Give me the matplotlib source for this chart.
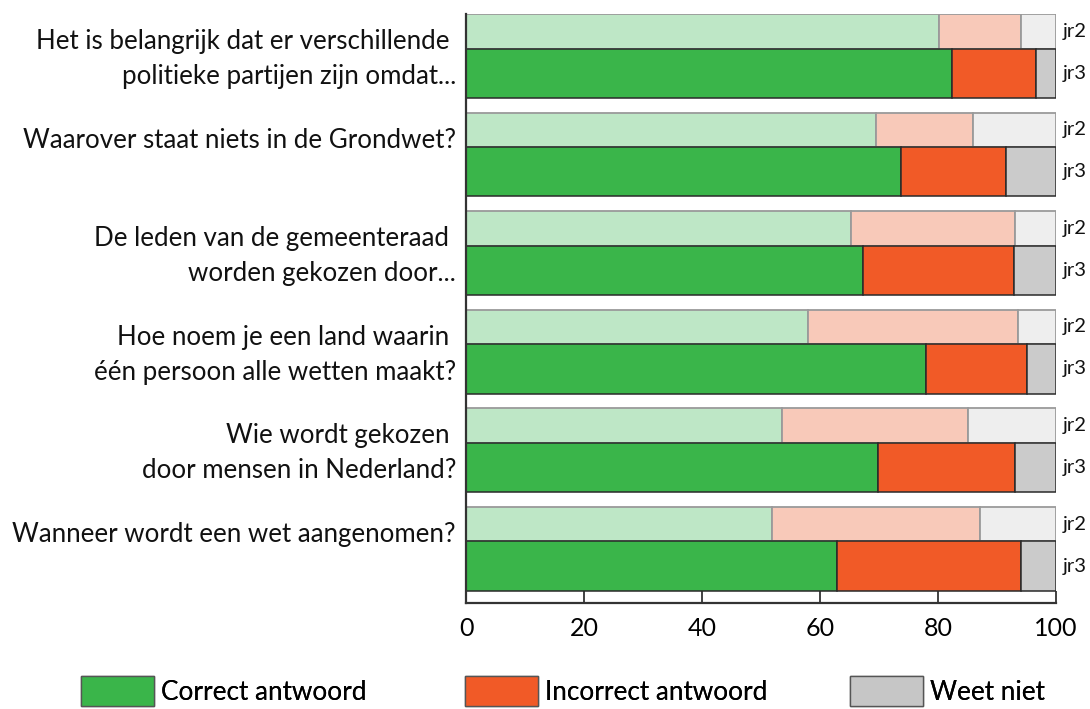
import matplotlib
matplotlib.use("Agg")
import matplotlib.pyplot as plt
from matplotlib.patches import Patch
from matplotlib import transforms as mtrans
import numpy as np

plt.rcParams['font.family'] = ['Lato', 'DejaVu Sans']

questions = [
    "Het is belangrijk dat er verschillende \npolitieke partijen zijn omdat...",
    "Waarover staat niets in de Grondwet?",
    "De leden van de gemeenteraad \nworden gekozen door...",
    "Hoe noem je een land waarin \néén persoon alle wetten maakt?",
    "Wie wordt gekozen \ndoor mensen in Nederland?",
    "Wanneer wordt een wet aangenomen?",
]
jr2_correct = [80.1, 69.5, 65.3, 57.9, 53.5, 51.9]
jr2_incorrect = [14.0, 16.5, 27.8, 35.7, 31.5, 35.2]
jr3_correct = [82.4, 73.8, 67.3, 78.0, 69.9, 62.8]
jr3_incorrect = [14.2, 17.8, 25.6, 17.0, 23.2, 31.3]
jr2_weet = [100 - a - b for a, b in zip(jr2_correct, jr2_incorrect)]
jr3_weet = [100 - a - b for a, b in zip(jr3_correct, jr3_incorrect)]
year_labels = ["jr2", "jr3"]
legend_labels = ["Correct antwoord", "Incorrect antwoord", "Weet niet"]
xticks = [0, 20, 40, 60, 80, 100]

dark = ["#3AB54A", "#F15A27", "#CBCBCB"]
light = ["#BEE7C6", "#F8C9B9", "#EEEEEE"]
legend_colors = ["#3AB54A", "#F15A27", "#C6C6C6"]

fig = plt.figure(figsize=(10.9, 7.09), dpi=100)
ax = fig.add_axes([466/1090, 1-603/709, 590/1090, (603-14)/709])

n = len(questions)
idx = np.arange(n)
h2, h3 = 0.35, 0.50
y2 = idx + h2/2
y3 = idx + h2 + h3/2

def stack(y, h, vals, colors, ec, lw):
    left = np.zeros(n)
    for v, c in zip(vals, colors):
        v = np.array(v)
        ax.barh(y, v, height=h, left=left, color=c, edgecolor=ec, linewidth=lw, zorder=2)
        left = left + v

stack(y2, h2, [jr2_correct, jr2_incorrect, jr2_weet], light, "#9A9A9A", 1.3)
stack(y3, h3, [jr3_correct, jr3_incorrect, jr3_weet], dark, "#2A2A2A", 1.1)

ax.set_xlim(0, 100)
ax.set_ylim(n - 0.15 + 0.125, 0)

for s in ["top", "right"]:
    ax.spines[s].set_visible(False)
for s in ["left", "bottom"]:
    ax.spines[s].set_color("#333333")
    ax.spines[s].set_linewidth(1.6)
    ax.spines[s].set_zorder(3)

ax.set_xticks(xticks)
ax.set_xticklabels([str(t) for t in xticks], fontsize=18)
ax.tick_params(axis='x', direction='in', length=9, width=1.3, color="#333333", pad=10)

tick_y = idx + 0.26
ax.set_yticks(tick_y)
ax.set_yticklabels([])
ax.tick_params(axis='y', direction='in', length=10, width=1.3, color="#333333")

# category labels, line by line
base = mtrans.blended_transform_factory(ax.transAxes, ax.transData)
for q, ty in zip(questions, tick_y):
    for k, line in enumerate(q.split("\n")):
        tr = mtrans.offset_copy(base, fig=fig, x=-10, y=-2-35*k, units='dots')
        ax.text(0, ty, line, transform=tr, ha='right', va='center', fontsize=18.6, color="#111111")

# year labels
for yy2, yy3 in zip(y2, y3):
    tr = mtrans.offset_copy(base, fig=fig, x=7, y=0, units='dots')
    ax.text(1, yy2, year_labels[0], transform=tr, ha='left', va='center', fontsize=14.5, color="#111111")
    ax.text(1, yy3, year_labels[1], transform=tr, ha='left', va='center', fontsize=14.5, color="#111111")

# legend: one entry per block, placed like the reference
fs = 18.8
em = fs * 100 / 72
leg_x = [81, 465, 850]
for lab, col, lx in zip(legend_labels, legend_colors, leg_x):
    h = Patch(facecolor=col, edgecolor="#555555", linewidth=1.0)
    lg = fig.legend([h], [lab], loc='upper left', bbox_to_anchor=(lx/1090, 1-676/709),
                    frameon=False, fontsize=fs, handlelength=73/em,
                    handleheight=36/em, handletextpad=0.25,
                    borderpad=0, borderaxespad=0)
    fig.add_artist(lg)

fig.savefig("out.png", dpi=100)
